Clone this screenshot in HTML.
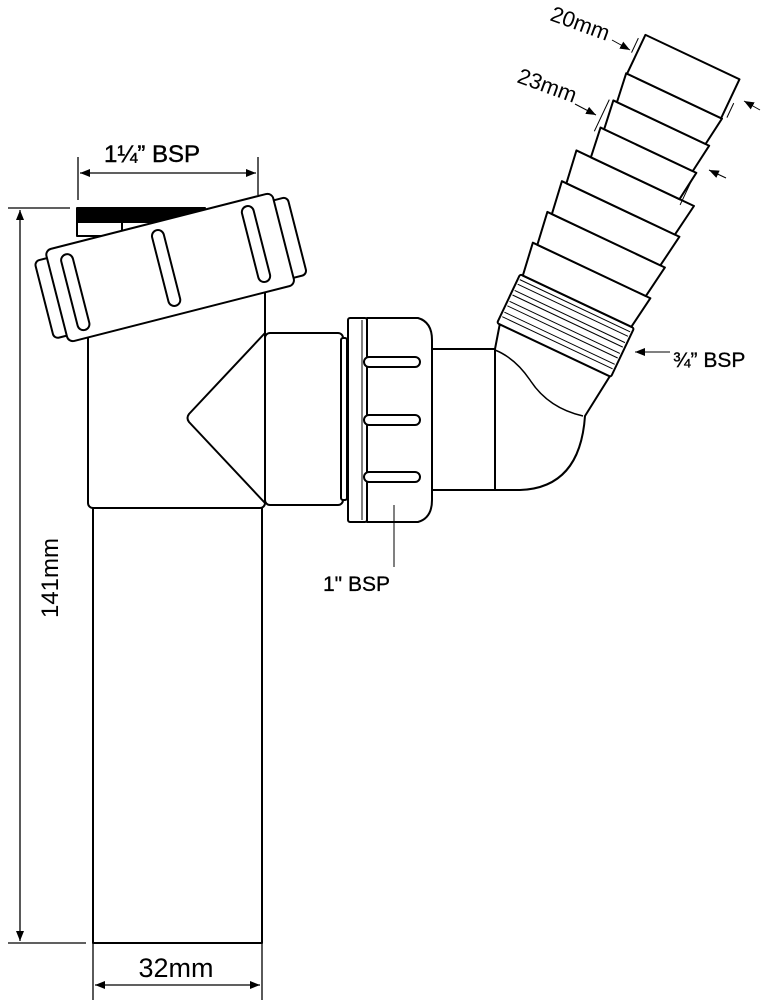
<!DOCTYPE html>
<html><head><meta charset="utf-8"><style>
html,body{margin:0;padding:0;background:#fff;}
svg{display:block;}
text{font-family:"Liberation Sans",Arial,sans-serif;fill:#000;}
</style></head><body>
<svg width="764" height="1000" viewBox="0 0 764 1000" xmlns="http://www.w3.org/2000/svg">
<defs>
<marker id="ar" markerWidth="10" markerHeight="8" refX="10" refY="4" orient="auto" markerUnits="userSpaceOnUse">
<path d="M0,0 L10,4 L0,8 Z" fill="#000"/></marker>
</defs>
<g fill="none" stroke="#000" stroke-width="1.3">
<line x1="8" y1="208" x2="70" y2="208"/>
<line x1="8" y1="943" x2="86" y2="943"/>
<line x1="20" y1="575" x2="20" y2="210" marker-end="url(#ar)"/>
<line x1="20" y1="575" x2="20" y2="941" marker-end="url(#ar)"/>
<line x1="78" y1="157" x2="78" y2="200"/>
<line x1="258" y1="157" x2="258" y2="195"/>
<line x1="168" y1="173" x2="80" y2="173" marker-end="url(#ar)"/>
<line x1="168" y1="173" x2="256" y2="173" marker-end="url(#ar)"/>
<line x1="93" y1="943" x2="93" y2="1000"/>
<line x1="262" y1="943" x2="262" y2="1000"/>
<line x1="178" y1="985" x2="95" y2="985" marker-end="url(#ar)"/>
<line x1="178" y1="985" x2="260" y2="985" marker-end="url(#ar)"/>
</g>
<text x="152" y="162" font-size="24" text-anchor="middle" stroke="#000" stroke-width="0.4">1¼” BSP</text>
<text x="176" y="977" font-size="27" text-anchor="middle">32mm</text>
<text transform="translate(58,578) rotate(-90)" font-size="24" text-anchor="middle">141mm</text>

<g fill="#fff" stroke="#000" stroke-width="2" stroke-linejoin="round">
<rect x="93" y="500" width="169" height="443"/>
<rect x="88" y="250" width="177" height="258" rx="5"/>
<rect x="265" y="333" width="78" height="172" rx="5"/>
<rect x="341" y="338" width="6" height="162" rx="2"/>
<path d="M265,333 L189,414 Q186,418 189,422 L265,503" fill="none"/>
<rect x="77" y="222" width="45" height="14"/>
<path d="M77,208 L205,208 L155,222 L77,222 Z" fill="#000"/>
<g transform="translate(170,267) rotate(-14.3)">
<rect x="-130" y="-39" width="20" height="80" rx="5"/>
<rect x="111" y="-39" width="20" height="80" rx="5"/>
<rect x="-117" y="-47" width="234" height="95" rx="6"/>
<rect x="-104" y="-38" width="12" height="78" rx="6"/>
<rect x="-10" y="-39" width="12" height="78" rx="6"/>
<rect x="83" y="-40" width="12" height="78" rx="6"/>
</g>
<rect x="348" y="318" width="19" height="204" rx="2"/>
<path d="M367,318 L418,318 Q432,322 432,340 L432,500 Q432,518 418,522 L367,522 Z"/>
<line x1="362" y1="320" x2="362" y2="520" stroke-width="1"/>
<rect x="364" y="357" width="56" height="10" rx="5"/>
<rect x="364" y="415" width="56" height="10" rx="5"/>
<rect x="364" y="472" width="56" height="10" rx="5"/>
<rect x="432" y="349" width="63" height="141"/>
<path d="M495,349 L500,323 L610,376 L585,416 Q580,488 520,490 L495,490 Z"/>
<path d="M495,350 Q515,358 530,380 Q548,408 583,416" fill="none" stroke-width="1.5"/>
</g>
<line x1="394" y1="505" x2="394" y2="567" stroke="#000" stroke-width="1"/>
<text x="323" y="591" font-size="21" stroke="#000" stroke-width="0.3">1" BSP</text>

<g transform="translate(554,350) rotate(25.3)" fill="#fff" stroke="#000" stroke-width="2" stroke-linejoin="round">
<rect x="-63" y="-54" width="126" height="54" rx="2"/>
<g stroke-width="1">
<line x1="-61" y1="-8" x2="61" y2="-8"/><line x1="-61" y1="-13" x2="61" y2="-13"/>
<line x1="-61" y1="-20" x2="61" y2="-20"/><line x1="-61" y1="-25" x2="61" y2="-25"/>
<line x1="-61" y1="-32" x2="61" y2="-32"/><line x1="-61" y1="-37" x2="61" y2="-37"/>
<line x1="-61" y1="-44" x2="61" y2="-44"/><line x1="-61" y1="-49" x2="61" y2="-49"/>
</g>
<path d="M-60,-54 L60,-54 L65,-88 L-65,-88 Z"/>
<path d="M-60,-88 L60,-88 L65,-122 L-65,-122 Z"/>
<path d="M-60,-122 L60,-122 L65,-156 L-65,-156 Z"/>
<path d="M-60,-156 L60,-156 L65,-190 L-65,-190 Z"/>
<path d="M-49,-190 L49,-190 L53,-221 L-53,-221 Z"/>
<path d="M-49,-221 L49,-221 L53,-251 L-53,-251 Z"/>
<path d="M-49,-251 L49,-251 L53,-281 L-53,-281 Z"/>
<rect x="-52" y="-324" width="104" height="43"/>
<g stroke-width="1">
<line x1="-57" y1="-318" x2="-57" y2="-302"/>
<line x1="57" y1="-300" x2="57" y2="-284"/>
<line x1="-57" y1="-250" x2="-57" y2="-215"/>
<line x1="52" y1="-215" x2="52" y2="-185"/>
</g>
</g>
<g stroke="#000" stroke-width="1" fill="none">
<line x1="612" y1="40" x2="630" y2="50" marker-end="url(#ar)"/>
<line x1="760" y1="110" x2="744" y2="101" marker-end="url(#ar)"/>
<line x1="575" y1="104" x2="596" y2="115" marker-end="url(#ar)"/>
<line x1="726" y1="178" x2="709" y2="170" marker-end="url(#ar)"/>
<line x1="670" y1="352" x2="635" y2="352" marker-end="url(#ar)"/>
</g>
<text transform="translate(549,20) rotate(20)" font-size="22">20mm</text>
<text transform="translate(516,82) rotate(20)" font-size="22">23mm</text>
<text x="673" y="367" font-size="21" stroke="#000" stroke-width="0.3">¾” BSP</text>
</svg>
</body></html>
